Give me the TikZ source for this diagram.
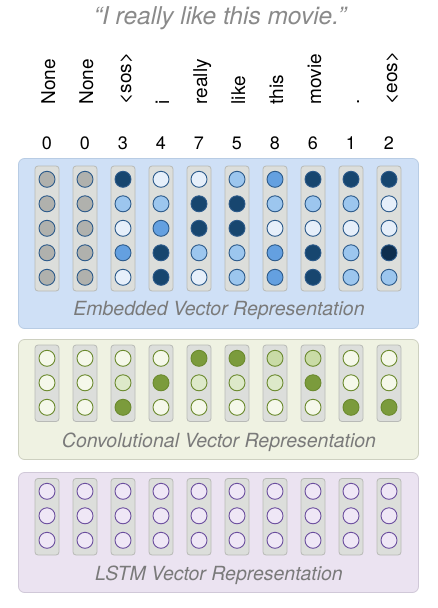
\documentclass[tikz,border=0pt]{standalone}
\usepackage{fontspec}
\setmainfont{TeX Gyre Heros}
\definecolor{dkb}{HTML}{17466F}
\definecolor{dkb2}{HTML}{0E2E4E}
\definecolor{mdb}{HTML}{64A0E0}
\definecolor{ltb}{HTML}{9CC6EE}
\definecolor{vlb}{HTML}{E6EFFA}
\definecolor{gry}{HTML}{B0B1AD}
\definecolor{bout}{HTML}{2C5A8A}
\definecolor{bpanel}{HTML}{CFE0F6}
\definecolor{bpanelb}{HTML}{B8CCE4}
\definecolor{gpanel}{HTML}{EFF2E2}
\definecolor{gpanelb}{HTML}{CDD0C0}
\definecolor{ppanel}{HTML}{EBE3F1}
\definecolor{ppanelb}{HTML}{D0C8D8}
\definecolor{stripf}{HTML}{DCDEDB}
\definecolor{stripb}{HTML}{B8BAB6}
\definecolor{gw}{HTML}{F5F8EA}
\definecolor{glt}{HTML}{DDE9C9}
\definecolor{gmd}{HTML}{C9DBA6}
\definecolor{gdk}{HTML}{7B9B3C}
\definecolor{gout}{HTML}{6B8A2E}
\definecolor{pw}{HTML}{EFE7F6}
\definecolor{pout}{HTML}{6B4E9E}
\definecolor{labgray}{HTML}{7A7A7A}
\definecolor{titgray}{HTML}{8A8A8A}
\begin{document}
\begin{tikzpicture}[x=1pt,y=-1pt,
  panel/.style={draw=#1b, fill=#1, rounded corners=6pt, line width=0.8pt},
  strip/.style={draw=stripb, fill=stripf, rounded corners=3pt, line width=0.8pt},
  bdot/.style={circle, draw=bout, fill=#1, minimum size=16pt, inner sep=0pt, line width=0.9pt},
  gdot/.style={circle, draw=gout, fill=#1, minimum size=16pt, inner sep=0pt, line width=0.9pt},
  pdot/.style={circle, draw=pout, fill=pw, minimum size=16pt, inner sep=0pt, line width=0.9pt},
  plabel/.style={font=\fontsize{19.5}{21}\selectfont\itshape, text=labgray},
  word/.style={font=\fontsize{19}{21}\selectfont, rotate=90, anchor=base west, inner sep=0pt},
  num/.style={font=\fontsize{18}{20}\selectfont, inner sep=0pt}
]
\useasboundingbox (0,0) rectangle (437,608);
\fill[white] (0,0) rectangle (437,608);
\node[font=\fontsize{24.5}{26}\selectfont\itshape, text=titgray] (title) at (220,18) {“I really like this movie.”};
% panels
\draw[panel=bpanel] (18.5,158.5) rectangle (418.5,328.5);
\draw[panel=gpanel] (18.5,339.5) rectangle (418.5,459.5);
\draw[panel=ppanel] (18.5,472.5) rectangle (418.5,592.5);
\node[plabel] (elab) at (219,310) {Embedded Vector Representation};
\node[plabel] (clab) at (219,442) {Convolutional Vector Representation};
\node[plabel] (llab) at (219,575) {LSTM Vector Representation};
% words and numbers
\foreach \w [count=\i from 0] in {None,None,<sos>,i,really,like,this,movie,.,<eos>}{
  \node[word] (w\i) at (47+38*\i+8,104.5) {\w};
}
\foreach \n [count=\i from 0] in {0,0,3,4,7,5,8,6,1,2}{
  \node[num] (n\i) at (47+38*\i,143) {\n};
}
% embedding
\foreach \cols [count=\i from 0] in {
 {gry,gry,gry,gry,gry},
 {gry,gry,gry,gry,gry},
 {dkb,ltb,vlb,mdb,vlb},
 {vlb,ltb,mdb,dkb,dkb},
 {vlb,dkb,dkb,ltb,vlb},
 {ltb,dkb,dkb,ltb,ltb},
 {mdb,ltb,vlb,mdb,mdb},
 {dkb,ltb,vlb,dkb,dkb},
 {dkb,ltb,vlb,ltb,ltb},
 {dkb,vlb,vlb,dkb2,ltb}}{
  \draw[strip] (47+38*\i-12,166) rectangle (47+38*\i+12,291);
  \foreach \c [count=\j from 0] in \cols {
    \node[bdot=\c] (e\i-\j) at (47+38*\i,179.3+24.5*\j) {};
  }
}
% convolution
\foreach \cols [count=\i from 0] in {
 {gw,gw,gw},{gw,gw,gw},{gw,glt,gdk},{gw,gdk,gw},{gdk,glt,gw},
 {gdk,glt,gw},{gmd,glt,gw},{gmd,gdk,gw},{gw,gw,gdk},{gw,gw,gdk}}{
  \draw[strip] (47+38*\i-12,345) rectangle (47+38*\i+12,421.5);
  \foreach \c [count=\j from 0] in \cols {
    \node[gdot=\c] (c\i-\j) at (47+38*\i,358.3+24.5*\j) {};
  }
}
% lstm
\foreach \i in {0,...,9}{
  \draw[strip] (47+38*\i-12,478.5) rectangle (47+38*\i+12,555);
  \foreach \j in {0,1,2}{
    \node[pdot] (l\i-\j) at (47+38*\i,491.3+24.5*\j) {};
  }
}
\end{tikzpicture}
\end{document}
